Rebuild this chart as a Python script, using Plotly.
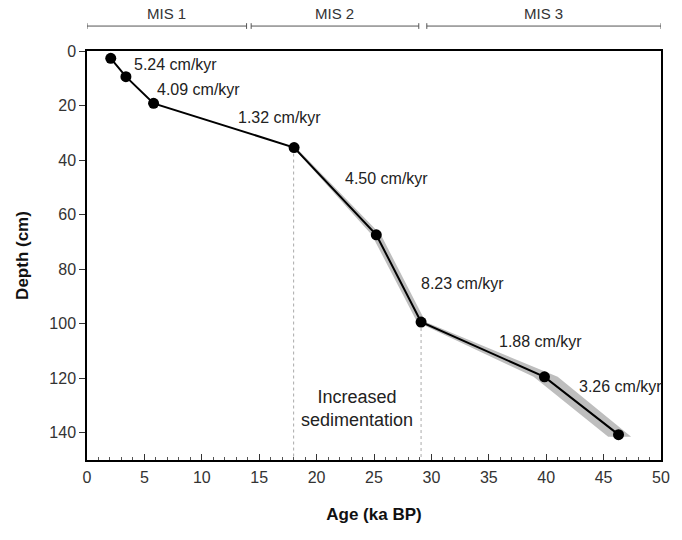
import plotly.graph_objects as go

# ---- data ----
ages = [2.07, 3.39, 5.8, 18.04, 25.2, 29.1, 39.85, 46.3]
depths = [2.7, 9.4, 19.2, 35.4, 67.4, 99.4, 119.5, 140.7]

band_depth = [35.4, 67.4, 99.4, 119.5, 141.5]
band_age_lo = [17.95, 24.8, 28.75, 38.9, 45.4]
band_age_hi = [18.2, 25.6, 29.5, 41.0, 47.4]

rate_labels = ["5.24 cm/kyr", "4.09 cm/kyr", "1.32 cm/kyr", "4.50 cm/kyr",
               "8.23 cm/kyr", "1.88 cm/kyr", "3.26 cm/kyr"]
rate_age = [7.7, 9.7, 16.8, 26.1, 32.7, 39.5, 46.5]
rate_depth = [5.1, 14.3, 24.3, 46.6, 85.1, 106.5, 123.0]

boundary_ages = [18.0, 29.1]
boundary_depths = [35.4, 99.4]

mis_labels = ["MIS 1", "MIS 2", "MIS 3"]
mis_start = [0.0, 14.3, 29.6]
mis_end = [13.9, 28.9, 50.0]

x_ticks = [0, 5, 10, 15, 20, 25, 30, 35, 40, 45, 50]
y_ticks = [0, 20, 40, 60, 80, 100, 120, 140]

FONT = "Liberation Sans, Arial, sans-serif"

fig = go.Figure()

# uncertainty band
fig.add_trace(go.Scatter(
    x=band_age_hi + band_age_lo[::-1],
    y=band_depth + band_depth[::-1],
    fill="toself", fillcolor="rgb(190,190,190)",
    line=dict(width=0), mode="lines", hoverinfo="skip", showlegend=False))

# boundary dashed lines
for a, d in zip(boundary_ages, boundary_depths):
    fig.add_trace(go.Scatter(
        x=[a, a], y=[d, 150], mode="lines",
        line=dict(color="rgb(170,170,170)", width=1, dash="dot"),
        hoverinfo="skip", showlegend=False))

# age-depth line
fig.add_trace(go.Scatter(
    x=ages, y=depths, mode="lines+markers",
    line=dict(color="black", width=2),
    marker=dict(color="black", size=11),
    showlegend=False))

annotations = []
for t, a, d in zip(rate_labels, rate_age, rate_depth):
    annotations.append(dict(x=a, y=d, xref="x", yref="y", text=t, showarrow=False,
                            font=dict(family=FONT, size=16, color="#222")))
annotations.append(dict(x=23.56, y=131, xref="x", yref="y",
                        text="Increased<br>sedimentation", showarrow=False,
                        font=dict(family=FONT, size=18, color="#222")))

shapes = []
line_y = 1.061
tick_h = 0.007
for lab, s, e in zip(mis_labels, mis_start, mis_end):
    shapes.append(dict(type="line", xref="x", yref="paper", x0=s, x1=e, y0=line_y, y1=line_y,
                       line=dict(color="#555", width=1)))
    for xx in (s, e):
        shapes.append(dict(type="line", xref="x", yref="paper", x0=xx, x1=xx,
                           y0=line_y - tick_h, y1=line_y + tick_h,
                           line=dict(color="#555", width=1)))
    annotations.append(dict(x=(s + e) / 2, y=1.0905, xref="x", yref="paper", text=lab,
                            yanchor="middle", showarrow=False,
                            font=dict(family=FONT, size=15, color="#333")))

fig.update_layout(
    width=682, height=540,
    margin=dict(l=87, r=14, t=51, b=80),
    paper_bgcolor="white", plot_bgcolor="white",
    font=dict(family=FONT, color="#222"),
    annotations=annotations, shapes=shapes,
    xaxis=dict(range=[0, 50], tickvals=x_ticks, ticks="inside", ticklen=6,
               tickcolor="#333", showgrid=False, zeroline=False,
               showline=True, linecolor="black", linewidth=1.5, mirror=True,
               minor=dict(ticks="inside", dtick=1, ticklen=3, tickcolor="#555"),
               tickfont=dict(family=FONT, size=16, color="#333"),
               ticklabelstandoff=2,
               title=dict(text="<b>Age (ka BP)</b>", standoff=23,
                          font=dict(family=FONT, size=17, color="#111"))),
    yaxis=dict(range=[150, 0], tickvals=y_ticks, ticks="outside", ticklen=6,
               tickcolor="#333", showgrid=False, zeroline=False,
               showline=True, linecolor="black", linewidth=1.5, mirror=True,
               tickfont=dict(family=FONT, size=16, color="#333"),
               title=dict(text="<b>Depth (cm)</b>", standoff=16,
                          font=dict(family=FONT, size=17, color="#111"))),
)

fig.write_html("out.html")
